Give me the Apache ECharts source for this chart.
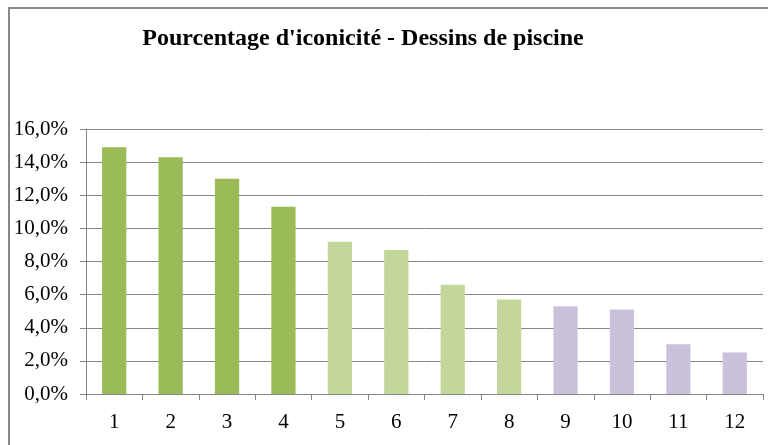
<!DOCTYPE html>
<html>
<head>
<meta charset="utf-8">
<script src="https://cdn.jsdelivr.net/npm/echarts@6/dist/echarts.min.js"></script>
<style>
  html, body { margin: 0; padding: 0; background: #fff; }
  #chart { width: 768px; height: 445px; }
</style>
</head>
<body>
<div id="chart"></div>
<script>
// Pourcentage d'iconicité par dessin
const categories = ['1', '2', '3', '4', '5', '6', '7', '8', '9', '10', '11', '12'];
const values = [14.9, 14.3, 13.0, 11.3, 9.2, 8.7, 6.6, 5.7, 5.3, 5.1, 3.0, 2.5];
const groups = [0, 0, 0, 0, 1, 1, 1, 1, 2, 2, 2, 2];
const yTicks = [0, 2, 4, 6, 8, 10, 12, 14, 16];
const titleText = "Pourcentage d'iconicité - Dessins de piscine";

const palette = ['#9BBB59', '#C3D69B', '#CCC1DA'];
const serif = '"Liberation Serif", "Times New Roman", serif';
const lineGray = '#868686';

const chart = echarts.init(document.getElementById('chart'), null, { renderer: 'canvas' });

chart.setOption({
  animation: false,
  backgroundColor: '#fff',
  title: {
    text: titleText,
    left: 358,
    textAlign: 'center',
    top: 22,
    textStyle: { fontFamily: serif, fontWeight: 'bold', fontSize: 24, color: '#000' }
  },
  graphic: [{
    type: 'rect',
    shape: { x: 9, y: 8, width: 800, height: 500 },
    style: { fill: 'none', stroke: '#888', lineWidth: 2 },
    silent: true
  }],
  grid: { left: 86, right: 5, top: 129, bottom: 51 },
  xAxis: {
    type: 'category',
    data: categories,
    axisLine: { lineStyle: { color: lineGray, width: 1 } },
    axisTick: { show: true, length: 6, lineStyle: { color: lineGray } },
    axisLabel: { fontFamily: serif, fontSize: 21, color: '#000', margin: 18 }
  },
  yAxis: {
    type: 'value',
    min: yTicks[0],
    max: yTicks[yTicks.length - 1],
    interval: yTicks[1] - yTicks[0],
    axisLine: { show: true, lineStyle: { color: lineGray, width: 1 } },
    axisTick: { show: true, length: 6, lineStyle: { color: lineGray } },
    axisLabel: {
      fontFamily: serif, fontSize: 21, color: '#000', margin: 18,
      formatter: v => v.toFixed(1).replace('.', ',') + '%'
    },
    splitLine: { show: true, lineStyle: { color: lineGray, width: 1 } }
  },
  series: [{
    type: 'bar',
    data: values.map((v, i) => ({ value: v, itemStyle: { color: palette[groups[i]] } })),
    barWidth: '43%'
  }]
});
</script>
</body>
</html>
